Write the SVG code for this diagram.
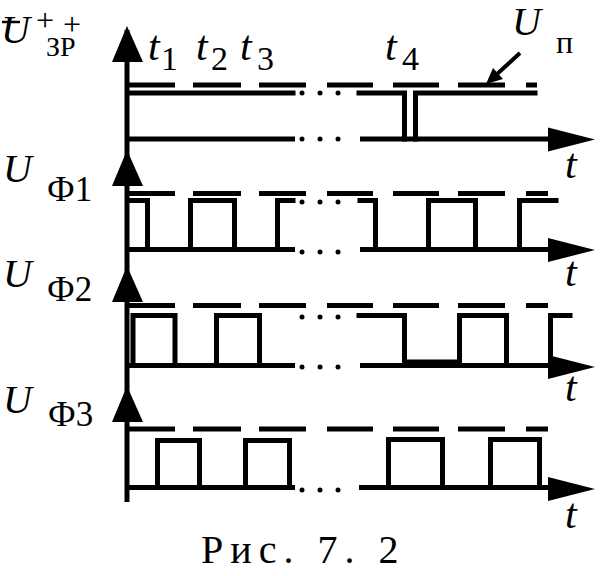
<svg xmlns="http://www.w3.org/2000/svg" width="606" height="576" viewBox="0 0 606 576">
<style>
.ln{fill:none;stroke:#000;stroke-width:5}
.sg{fill:none;stroke:#000;stroke-width:5;stroke-linejoin:miter;stroke-linecap:square}
.ah{fill:#000}
.dot{fill:#000}
.it{font-family:"Liberation Serif",serif;font-style:italic;fill:#000}
.rm{font-family:"Liberation Serif",serif;fill:#000}
</style>
<defs>
<path id="dash" d="M128,0H175M193,0H241M259,0H306M327,0H373M393,0H439M458,0H505" class="ln"/>
<g id="dots"><circle cx="302" cy="0" r="2.5"/><circle cx="320" cy="0" r="2.5"/><circle cx="338" cy="0" r="2.5"/></g>
<polygon id="vah" points="0,0 -15,36 16,36"/>
<polygon id="hah" points="0,-12 47,0 0,12"/>
</defs>
<rect width="606" height="576" fill="#fff"/>

<g id="axes">
<path class="ln" d="M127,30V502"/>
<use href="#vah" x="127" y="26"/>
<use href="#vah" x="127" y="150"/>
<use href="#vah" x="127" y="266"/>
<use href="#vah" x="127" y="386"/>
<path class="ln" d="M127,139H295M360,139H550"/>
<path class="ln" d="M127,249.5H295M360,249.5H550"/>
<path class="ln" d="M127,365.5H295M360,365.5H550"/>
<path class="ln" d="M127,487.5H295M359,487.5H550"/>
<use href="#hah" x="548" y="139.5"/>
<use href="#hah" x="548" y="250"/>
<use href="#hah" x="548" y="367"/>
<use href="#hah" x="548" y="489"/>
</g>

<g id="panel-zr">
<use href="#dash" y="85"/>
<path class="ln" d="M526,85H537"/>
<path class="sg" d="M130,93H293M359,93H404.5V139M415.5,139V93H535"/>
<use href="#dots" y="93" class="dot"/>
<use href="#dots" y="139" class="dot"/>
<line x1="2" y1="22" x2="20" y2="22" stroke="#000" stroke-width="2.5"/>
<text class="rm"><tspan class="it" x="1" y="43" font-size="40">U</tspan><tspan x="36" y="31" font-size="32">+</tspan><tspan x="63" y="35" font-size="32">+</tspan><tspan x="46" y="56" font-size="28">ЗР</tspan></text>
<text class="it" x="148" y="60" font-size="42">t</text>
<text class="rm" x="161" y="70" font-size="34">1</text>
<text class="it" x="196" y="60" font-size="42">t</text>
<text class="rm" x="211" y="70" font-size="34">2</text>
<text class="it" x="240" y="60" font-size="42">t</text>
<text class="rm" x="257" y="70" font-size="34">3</text>
<text class="it" x="385" y="60" font-size="42">t</text>
<text class="rm" x="402" y="70" font-size="34">4</text>
<text class="it" x="512" y="35" font-size="40">U</text>
<text class="rm" x="556" y="53" font-size="32">п</text>
<line x1="520" y1="53" x2="496" y2="75" stroke="#000" stroke-width="4"/>
<polygon class="ah" points="486,84 493,68 503,79"/>
<text class="it" x="565" y="178" font-size="42">t</text>
</g>

<g id="panel-f1">
<use href="#dash" y="193.5"/>
<path class="ln" d="M526,193.5H548"/>
<path class="sg" d="M130,200.5H147.5V249.5M190.5,249.5V200.5H234.5V249.5M277.5,249.5V200.5H293"/>
<path class="sg" d="M360,200.5H375.5V249.5M428.5,249.5V200.5H475.5V249.5M519.5,249.5V200.5H556"/>
<use href="#dots" y="202" class="dot"/>
<use href="#dots" y="252" class="dot"/>
<text class="it" x="3" y="182" font-size="40">U</text>
<text class="rm" x="47" y="201" font-size="35">Ф1</text>
<text class="it" x="565" y="286" font-size="42">t</text>
</g>

<g id="panel-f2">
<use href="#dash" y="305.5"/>
<path class="ln" d="M526,305.5H548"/>
<path class="sg" d="M133,365.5V315.5H175V365.5M216.5,365.5V315.5H259.5V365.5"/>
<path class="sg" d="M359,315.5H404.5V362H459.5V315.5H506.5V365.5M550.5,365.5V315.5H570"/>
<use href="#dots" y="317" class="dot"/>
<use href="#dots" y="367" class="dot"/>
<text class="it" x="3" y="287" font-size="40">U</text>
<text class="rm" x="47" y="301" font-size="35">Ф2</text>
<text class="it" x="565" y="401" font-size="42">t</text>
</g>

<g id="panel-f3">
<use href="#dash" y="429"/>
<path class="ln" d="M526,429H548"/>
<path class="sg" d="M157.5,487.5V440.5H199.5V487.5M245.5,487.5V440.5H289.5V487.5"/>
<path class="sg" d="M388.5,487.5V439.5H442.5V487.5M490.5,487.5V439.5H539.5V487.5"/>
<use href="#dots" y="490" class="dot"/>
<text class="it" x="3" y="413" font-size="40">U</text>
<text class="rm" x="48" y="426" font-size="35">Ф3</text>
<text class="it" x="565" y="528" font-size="42">t</text>
</g>

<text id="caption" class="rm" x="201" y="563" font-size="40" letter-spacing="7">Рис. 7. 2</text>
</svg>
